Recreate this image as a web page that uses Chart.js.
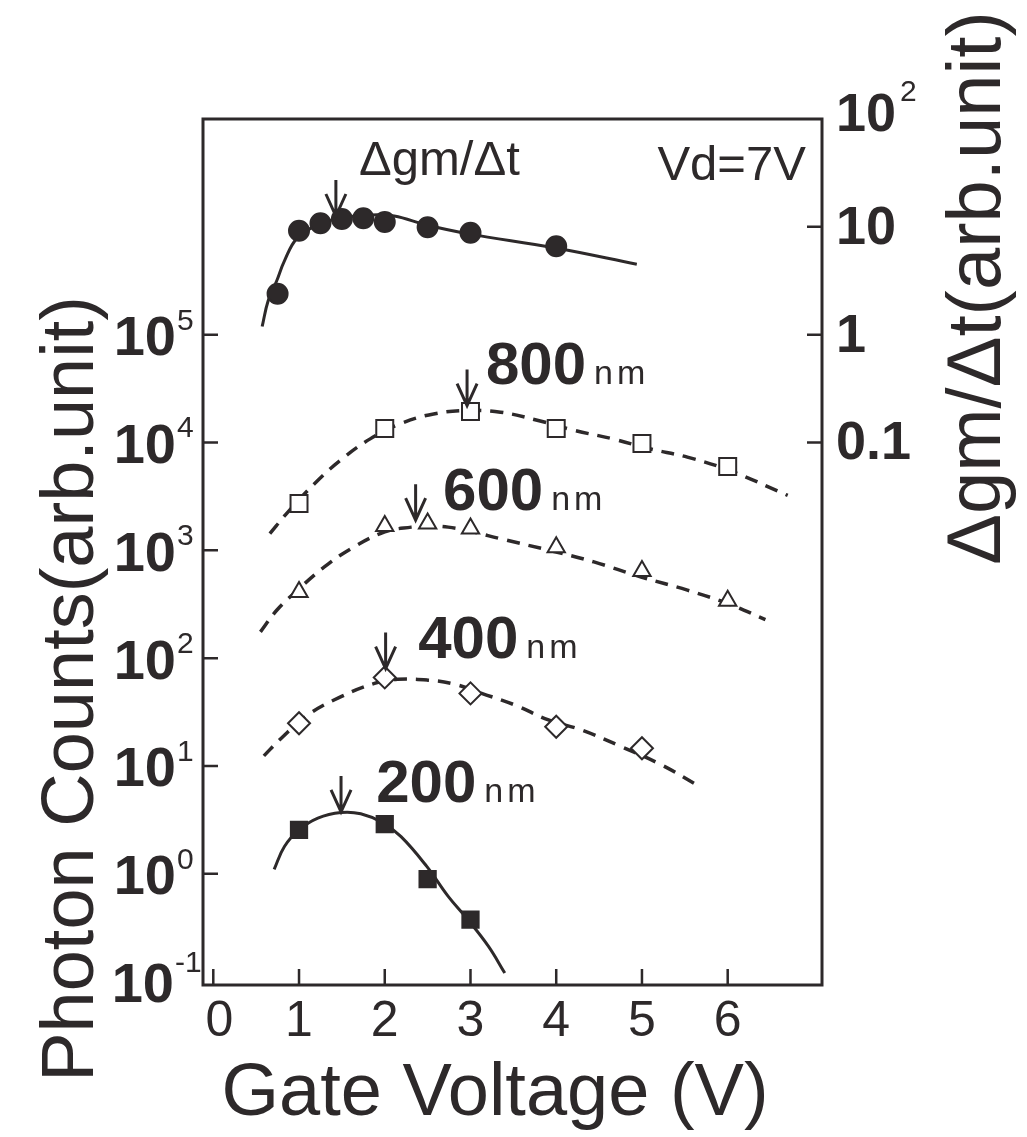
<!DOCTYPE html>
<html>
<head>
<meta charset="utf-8">
<script src="https://cdn.jsdelivr.net/npm/chart.js@4.4.1/dist/chart.umd.min.js"></script>
<style>
  body { margin: 0; background: #fff; }
  canvas { display: block; }
</style>
</head>
<body>
<canvas id="chart" width="1027" height="1137"></canvas>
<script>
// gate voltage ticks and log decades
const xTicks = [0, 1, 2, 3, 4, 5, 6];
const leftExps = [-1, 0, 1, 2, 3, 4, 5];
const rightTicks = [0.1, 1, 10, 100];

// dgm/dt (right axis)
const gmX = [0.75, 1, 1.25, 1.5, 1.75, 2, 2.5, 3, 4];
const gmVal = [2.4, 9.2, 10.8, 11.8, 12.0, 11.1, 9.9, 8.8, 6.6];
const gmFitX = [0.57, 0.64, 0.74, 0.83, 0.98, 1.22, 1.49, 1.84, 2.11, 2.49, 2.98, 3.98, 4.94];
const gmFitVal = [1.19, 2.06, 3.16, 4.84, 7.9, 10.4, 12.1, 12.9, 12.6, 10.4, 8.6, 6.4, 4.5];

// photon counts per channel length (left axis)
const x800 = [1, 2, 3, 4, 5, 6];
const v800 = [2720, 13500, 19400, 13500, 9800, 6000];
const fit800X = [0.66, 0.87, 1.18, 1.48, 1.83, 2.18, 2.57, 2.98, 3.35, 3.79, 4.22, 4.66, 5.09, 5.53, 6.02, 6.70];
const fit800 = [1430, 2260, 4150, 6810, 10800, 14900, 18400, 19800, 19100, 16000, 12900, 10800, 8750, 7310, 5510, 3230];

const x600 = [1, 2, 2.5, 3, 4, 5, 6];
const v600 = [411, 1680, 1770, 1590, 1070, 643, 340];
const fit600X = [0.55, 0.74, 0.96, 1.27, 1.61, 2.0, 2.31, 2.5, 2.74, 3.0, 3.35, 4.0, 4.44, 4.99, 5.53, 6.0, 6.44];
const fit600 = [175, 278, 411, 676, 1040, 1480, 1640, 1680, 1640, 1500, 1280, 964, 780, 566, 427, 321, 228];

const x400 = [1, 2, 3, 4, 5];
const v400 = [24.9, 66.2, 47.1, 23.1, 14.6];
const fit400X = [0.59, 0.79, 1.10, 1.49, 1.88, 2.15, 2.50, 2.81, 3.13, 3.52, 3.91, 4.30, 4.76, 5.23, 5.68];
const fit400 = [12.4, 18.0, 29.6, 43.9, 58.3, 63.6, 62.5, 57.4, 47.1, 36.7, 26.7, 21.5, 15.1, 10.2, 6.4];

const x200 = [1, 2, 2.5, 3];
const v200 = [2.55, 2.88, 0.893, 0.375];
const fit200X = [0.71, 0.83, 1.0, 1.22, 1.49, 1.72, 1.97, 2.19, 2.49, 2.74, 2.97, 3.21, 3.40];
const fit200 = [1.10, 1.79, 2.55, 3.28, 3.70, 3.60, 2.99, 2.21, 1.17, 0.617, 0.375, 0.212, 0.120];

// peak arrows (x, value, axis)
const arrowX = [1.43, 2.96, 2.36, 2.01, 1.49];
const arrowVal = [12.6, 22000, 1900, 80, 3.75];
const arrowAxis = ['y2', 'y', 'y', 'y', 'y'];

const INK = '#2d292a';
const FONT = '"Liberation Sans", Arial, Helvetica, sans-serif';

const pts = (xs, ys) => xs.map((x, i) => ({x: x, y: ys[i]}));

// text annotations anchored in data units
const notes = [
  {text: '800', unit: 'nm', x: 3.18, y: 35200, axis: 'y'},
  {text: '600', unit: 'nm', x: 2.68, y: 2340, axis: 'y'},
  {text: '400', unit: 'nm', x: 2.39, y: 100, axis: 'y'},
  {text: '200', unit: 'nm', x: 1.90, y: 4.64, axis: 'y'}
];

const decorations = {
  id: 'decorations',
  afterDraw(chart) {
    const {ctx, chartArea: a, scales} = chart;
    const sx = scales.x, sy = scales.y, sy2 = scales.y2;
    ctx.save();
    ctx.strokeStyle = INK;
    ctx.fillStyle = INK;

    // frame
    ctx.lineWidth = 3;
    ctx.strokeRect(a.left, a.top, a.right - a.left, a.bottom - a.top);

    // inward ticks
    ctx.lineWidth = 2.5;
    ctx.beginPath();
    xTicks.forEach(v => {
      const px = sx.getPixelForValue(v);
      ctx.moveTo(px, a.bottom); ctx.lineTo(px, a.bottom - 16);
    });
    leftExps.filter(e => e >= 0).forEach(e => {
      const py = sy.getPixelForValue(Math.pow(10, e));
      ctx.moveTo(a.left, py); ctx.lineTo(a.left + 15, py);
    });
    rightTicks.filter(v => v < 100).forEach(v => {
      const py = sy2.getPixelForValue(v);
      ctx.moveTo(a.right, py); ctx.lineTo(a.right - 15, py);
    });
    ctx.stroke();

    // x tick labels
    ctx.font = '50px ' + FONT;
    ctx.textAlign = 'center';
    ctx.textBaseline = 'middle';
    xTicks.forEach(v => ctx.fillText(String(v), sx.getPixelForValue(v) + (v === 0 ? 6 : 0), a.bottom + 37));

    // left tick labels 10^n
    leftExps.forEach(e => {
      const py = sy.getPixelForValue(Math.pow(10, e));
      const exp = String(e);
      ctx.font = 'bold 56px ' + FONT;
      ctx.textAlign = 'right';
      ctx.textBaseline = 'middle';
      ctx.fillText('10', a.left - (e < 0 ? 29 : 27), py + 5);
      ctx.font = '30px ' + FONT;
      ctx.textAlign = 'left';
      ctx.textBaseline = 'alphabetic';
      ctx.fillText(exp, a.left - (e < 0 ? 28 : 26), py - (e < 0 ? 10 : 5));
    });

    // right tick labels
    rightTicks.forEach(v => {
      const py = sy2.getPixelForValue(v);
      ctx.font = 'bold 54px ' + FONT;
      ctx.textAlign = 'left';
      ctx.textBaseline = 'middle';
      if (v === 100) {
        ctx.fillText('10', a.right + 14, py - 3);
        const w = ctx.measureText('10').width;
        ctx.font = '30px ' + FONT;
        ctx.textBaseline = 'alphabetic';
        ctx.fillText('2', a.right + 18 + w, py - 18);
      } else {
        ctx.fillText(String(v), a.right + 14, py + 2);
      }
    });

    // axis titles
    ctx.font = '74px ' + FONT;
    ctx.textAlign = 'center';
    ctx.textBaseline = 'alphabetic';
    ctx.fillText('Gate Voltage (V)', 495, 1115);
    ctx.save();
    ctx.translate(93, 689);
    ctx.rotate(-Math.PI / 2);
    ctx.fillText('Photon Counts(arb.unit)', 0, 0);
    ctx.restore();
    ctx.save();
    ctx.translate(1000, 288);
    ctx.rotate(-Math.PI / 2);
    ctx.font = '76px ' + FONT;
    ctx.fillText('\u0394gm/\u0394t(arb.unit)', 0, 0);
    ctx.restore();

    // in-plot notes
    ctx.textAlign = 'left';
    ctx.font = '49px ' + FONT;
    ctx.fillText('\u0394gm/\u0394t', sx.getPixelForValue(1.70), sy2.getPixelForValue(30.3));
    ctx.font = '49px ' + FONT;
    ctx.fillText('Vd=7V', sx.getPixelForValue(5.18), sy2.getPixelForValue(27.2));
    notes.forEach(n => {
      const px = sx.getPixelForValue(n.x);
      const py = scales[n.axis].getPixelForValue(n.y);
      ctx.font = 'bold 60px ' + FONT;
      ctx.letterSpacing = '0px';
      ctx.fillText(n.text, px, py);
      const w = ctx.measureText(n.text).width;
      ctx.font = '34px ' + FONT;
      ctx.letterSpacing = '4px';
      ctx.fillText(n.unit, px + w + 8, py);
      ctx.letterSpacing = '0px';
    });

    // peak arrows
    ctx.lineWidth = 3;
    arrowX.forEach((xv, i) => {
      const px = sx.getPixelForValue(xv);
      const py = scales[arrowAxis[i]].getPixelForValue(arrowVal[i]);
      ctx.beginPath();
      ctx.moveTo(px, py - 36); ctx.lineTo(px, py);
      ctx.moveTo(px - 10, py - 22); ctx.lineTo(px, py); ctx.lineTo(px + 10, py - 22);
      ctx.stroke();
    });
    ctx.restore();
  }
};

function markers(label, xs, ys, style, filled, r, axis) {
  return {
    label: label,
    data: pts(xs, ys),
    yAxisID: axis || 'y',
    showLine: false,
    pointStyle: style,
    pointRadius: r,
    pointBackgroundColor: filled ? INK : '#ffffff',
    pointBorderColor: INK,
    pointBorderWidth: 2,
    order: 0
  };
}

function curve(label, xs, ys, dashed, axis) {
  return {
    label: label,
    data: pts(xs, ys),
    yAxisID: axis || 'y',
    showLine: true,
    pointRadius: 0,
    borderColor: INK,
    borderWidth: dashed ? 3.5 : 3,
    borderDash: dashed ? [13, 9] : [],
    tension: 0.4,
    order: 1
  };
}

new Chart(document.getElementById('chart'), {
  type: 'scatter',
  data: {
    datasets: [
      markers('dgm/dt', gmX, gmVal, 'circle', true, 10, 'y2'),
      markers('800nm', x800, v800, 'rect', false, 12),
      markers('600nm', x600, v600, 'triangle', false, 10),
      markers('400nm', x400, v400, 'rectRot', false, 11),
      markers('200nm', x200, v200, 'rect', true, 11.5),
      curve('dgm/dt fit', gmFitX, gmFitVal, false, 'y2'),
      curve('800nm fit', fit800X, fit800, true),
      curve('600nm fit', fit600X, fit600, true),
      curve('400nm fit', fit400X, fit400, true),
      curve('200nm fit', fit200X, fit200, false)
    ]
  },
  options: {
    responsive: false,
    animation: false,
    devicePixelRatio: 1,
    layout: {
      autoPadding: false,
      padding: {left: 203, right: 205, top: 119, bottom: 152}
    },
    plugins: {
      legend: {display: false},
      tooltip: {enabled: false}
    },
    scales: {
      x: {type: 'linear', display: false, min: -0.12, max: 7.1},
      y: {type: 'logarithmic', display: false, min: 0.093, max: 1e7},
      y2: {type: 'logarithmic', display: false, min: 9.3e-7, max: 100}
    }
  },
  plugins: [decorations]
});
</script>
</body>
</html>
